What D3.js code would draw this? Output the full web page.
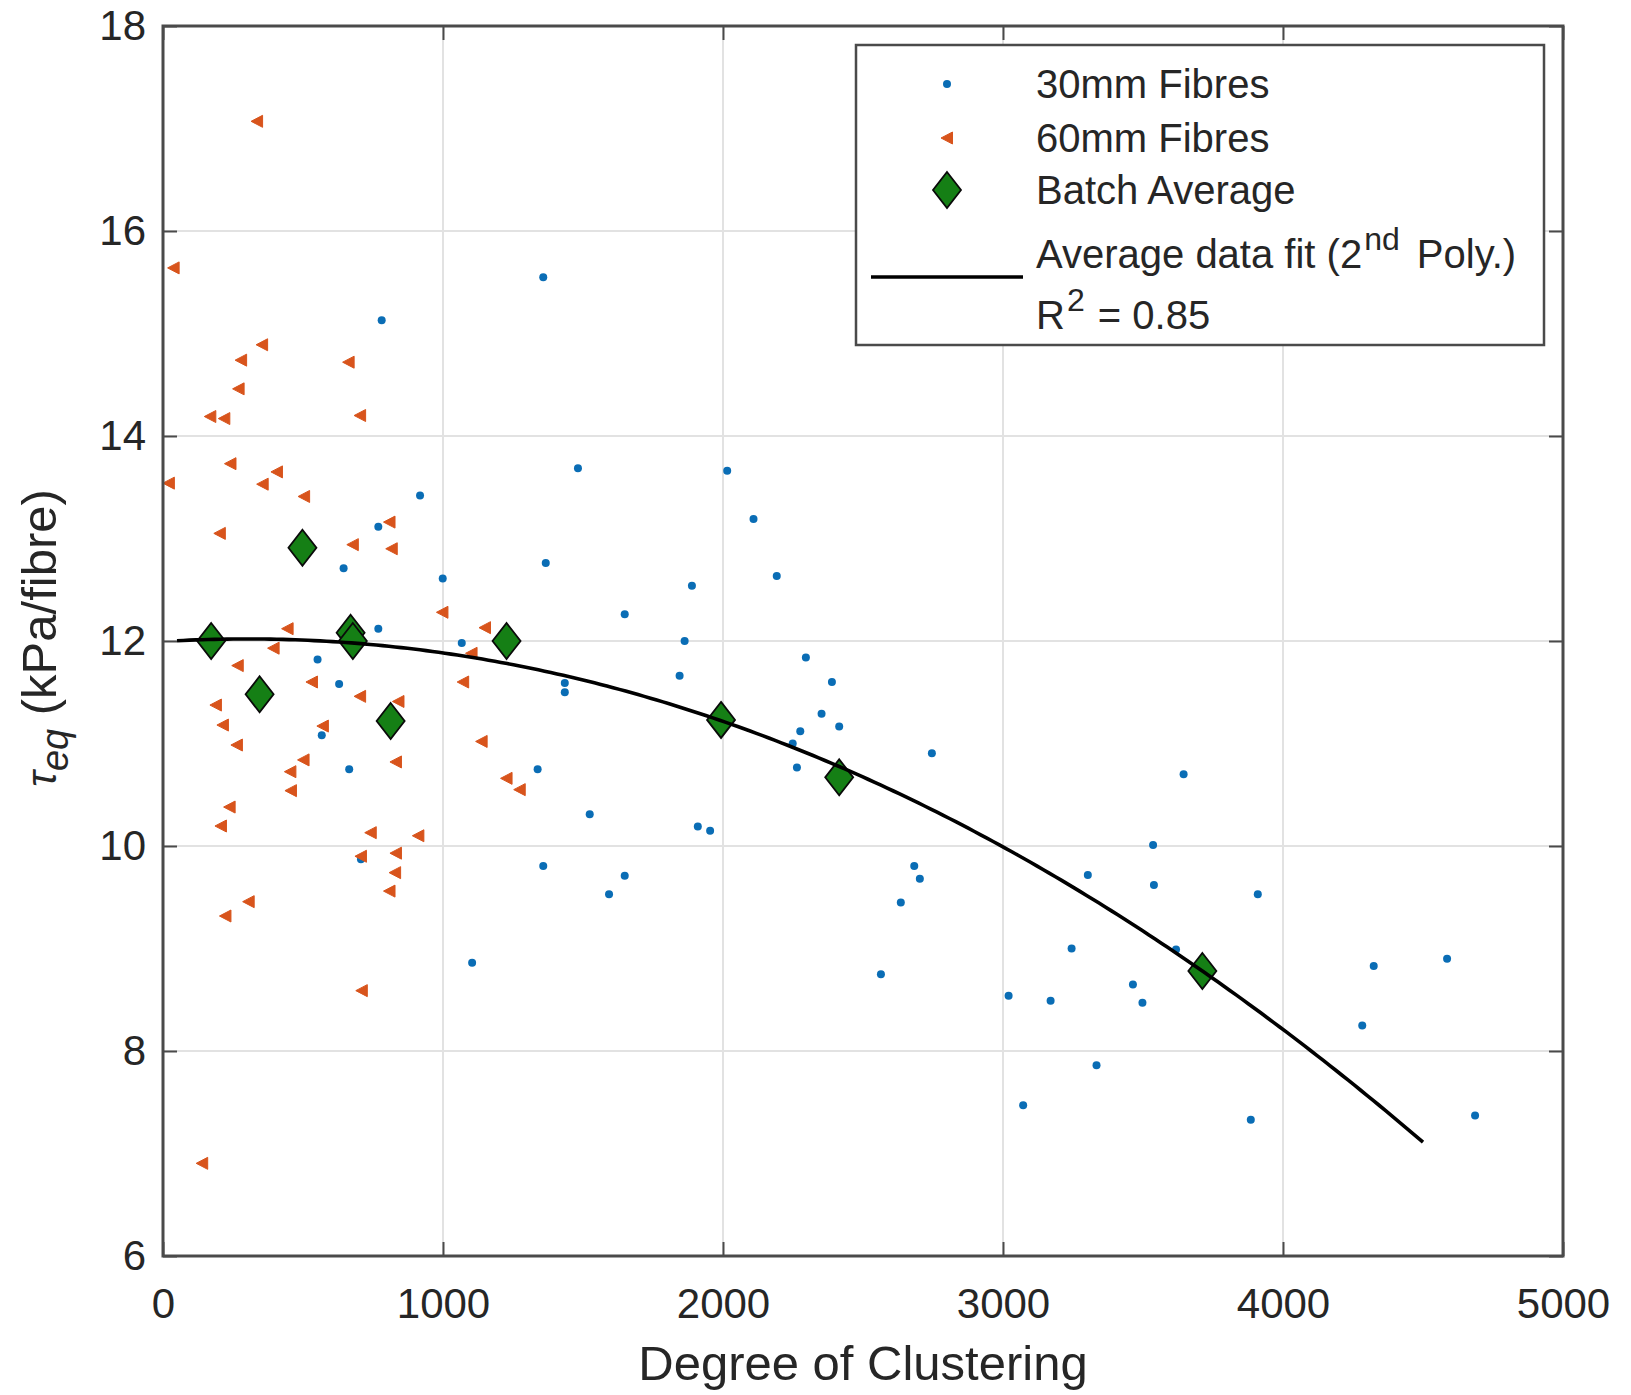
<!DOCTYPE html>
<html>
<head>
<meta charset="utf-8">
<script src="https://cdn.jsdelivr.net/npm/d3@7"></script>
<style>
  body { margin: 0; background: #ffffff; }
  svg { display: block; }
  text { font-family: "Liberation Sans", Arial, Helvetica, sans-serif; fill: #262626; }
</style>
</head>
<body>
<svg id="chart" width="1631" height="1395"></svg>
<script>
// Axis ticks
const xTicks = [0, 1000, 2000, 3000, 4000, 5000];
const yTicks = [6, 8, 10, 12, 14, 16, 18];

// 30mm fibre samples: [degree of clustering, tau_eq]
const fibres30mm = [
  [1358, 15.55], [781, 15.13], [918, 13.42], [769, 13.115], [645, 12.71],
  [999, 12.61], [1367, 12.76], [769, 12.12], [1067, 11.98], [552, 11.82],
  [629, 11.58], [567, 11.08], [665, 10.75], [1338, 10.75], [707, 9.87],
  [1358, 9.805], [1104, 8.86], [1482, 13.685], [2015, 13.66], [2109, 13.19],
  [2192, 12.635], [1889, 12.54], [1649, 12.26], [1863, 12.00], [2296, 11.84],
  [1845, 11.66], [2389, 11.60], [1435, 11.59], [1435, 11.50], [2352, 11.29],
  [2415, 11.165], [2276, 11.12], [2249, 11.0], [2264, 10.765], [2746, 10.905],
  [1524, 10.31], [1910, 10.19], [1954, 10.15], [1649, 9.71], [1593, 9.53],
  [2683, 9.805], [2703, 9.68], [2635, 9.45], [2564, 8.75], [3645, 10.70],
  [3536, 10.01], [3303, 9.716], [3539, 9.62], [3910, 9.53], [3245, 9.0],
  [3618, 8.99], [3020, 8.54], [3170, 8.49], [3464, 8.65], [3498, 8.47],
  [4324, 8.83], [4586, 8.90], [4283, 8.25], [3334, 7.86], [3072, 7.47],
  [3885, 7.33], [4686, 7.37]
];

// 60mm fibre samples: [degree of clustering, tau_eq]
const fibres60mm = [
  [336, 17.07], [38, 15.64], [354, 14.89], [279, 14.74], [663, 14.72],
  [270, 14.46], [169, 14.19], [219, 14.17], [704, 14.20], [241, 13.73],
  [407, 13.65], [21, 13.54], [356, 13.53], [504, 13.41], [203, 13.05],
  [809, 13.16], [678, 12.94], [817, 12.90], [998, 12.28], [445, 12.12],
  [1150, 12.13], [1102, 11.88], [395, 11.93], [267, 11.76], [532, 11.60],
  [1072, 11.60], [704, 11.46], [841, 11.41], [189, 11.375], [214, 11.18],
  [571, 11.17], [264, 10.985], [1138, 11.02], [502, 10.84], [455, 10.725],
  [832, 10.82], [1227, 10.66], [1274, 10.55], [457, 10.54], [238, 10.38],
  [207, 10.195], [742, 10.13], [912, 10.10], [707, 9.90], [832, 9.93],
  [829, 9.74], [809, 9.56], [306, 9.457], [223, 9.317], [710, 8.589],
  [140, 6.904]
];

// Batch averages: [degree of clustering, tau_eq]
const batchAverage = [
  [172, 12.0], [345, 11.48], [498, 12.91], [670, 12.08], [678, 12.0],
  [813, 11.22], [1227, 12.0], [1993, 11.23], [2415, 10.67], [3712, 8.78]
];

// Second-order polynomial fit of the batch averages: c0 + c1*x + c2*x^2
const fitCoeffs = [11.995, 1.6698e-4, -2.783e-7];
const fitRange = [50, 4500];

const legendLabels = ["30mm Fibres", "60mm Fibres", "Batch Average"];

const colors = { f30: "#0a6db5", f60: "#d8541c", avg: "#157f15", fit: "#000000",
                 axis: "#4a4a4a", grid: "#e2e2e2" };

const svg = d3.select("#chart");
const plot = { left: 163, right: 1563, top: 26, bottom: 1256 };

const x = d3.scaleLinear().domain([0, 5000]).range([plot.left, plot.right]);
const y = d3.scaleLinear().domain([6, 18]).range([plot.bottom, plot.top]);

// Grid
const grid = svg.append("g");
grid.selectAll("line.vx").data(xTicks.slice(1, -1)).join("line")
  .attr("x1", d => x(d)).attr("x2", d => x(d))
  .attr("y1", plot.top).attr("y2", plot.bottom)
  .attr("stroke", colors.grid).attr("stroke-width", 2);
grid.selectAll("line.hy").data(yTicks.slice(1, -1)).join("line")
  .attr("x1", plot.left).attr("x2", plot.right)
  .attr("y1", d => y(d)).attr("y2", d => y(d))
  .attr("stroke", colors.grid).attr("stroke-width", 2);

// Axes (ticks point inward on all four sides)
const tickLen = 14;
function styleAxis(g, fontSize) {
  g.select(".domain").remove();
  g.selectAll(".tick line").attr("stroke", colors.axis).attr("stroke-width", 2);
  g.selectAll(".tick text").attr("font-size", fontSize).attr("fill", "#262626");
}
svg.append("g").attr("transform", `translate(0,${plot.bottom})`)
  .call(d3.axisBottom(x).tickValues(xTicks).tickSizeInner(-tickLen).tickSizeOuter(0).tickPadding(32).tickFormat(d3.format("d")))
  .call(g => styleAxis(g, 42));
svg.append("g").attr("transform", `translate(0,${plot.top})`)
  .call(d3.axisTop(x).tickValues(xTicks).tickSizeInner(-tickLen).tickSizeOuter(0).tickFormat(""))
  .call(g => styleAxis(g, 42));
svg.append("g").attr("transform", `translate(${plot.left},0)`)
  .call(d3.axisLeft(y).tickValues(yTicks).tickSizeInner(-tickLen).tickSizeOuter(0).tickPadding(17).tickFormat(d3.format("d")))
  .call(g => styleAxis(g, 42));
svg.append("g").attr("transform", `translate(${plot.right},0)`)
  .call(d3.axisRight(y).tickValues(yTicks).tickSizeInner(-tickLen).tickSizeOuter(0).tickFormat(""))
  .call(g => styleAxis(g, 42));

// Marker shapes
const trianglePath = "M -6,0 L 5.5,-6 L 5.5,6 Z";
const diamondPath = "M 0,-18 L 14,0 L 0,18 L -14,0 Z";

const marks = svg.append("g");

// 30mm fibres
marks.append("g").selectAll("circle").data(fibres30mm).join("circle")
  .attr("cx", d => x(d[0])).attr("cy", d => y(d[1])).attr("r", 4)
  .attr("fill", colors.f30);

// 60mm fibres
marks.append("g").selectAll("path").data(fibres60mm).join("path")
  .attr("d", trianglePath)
  .attr("transform", d => `translate(${x(d[0])},${y(d[1])})`)
  .attr("fill", colors.f60).attr("stroke", colors.f60).attr("stroke-width", 1);

// Batch averages
marks.append("g").selectAll("path").data(batchAverage).join("path")
  .attr("d", diamondPath)
  .attr("transform", d => `translate(${x(d[0])},${y(d[1])})`)
  .attr("fill", colors.avg).attr("stroke", "#0a0a0a").attr("stroke-width", 1.8);

// Polynomial fit
const poly = v => fitCoeffs[0] + fitCoeffs[1] * v + fitCoeffs[2] * v * v;
const fitX = d3.range(0, 201).map(i => fitRange[0] + (fitRange[1] - fitRange[0]) * i / 200);
marks.append("path")
  .datum(fitX)
  .attr("d", d3.line().x(v => x(v)).y(v => y(poly(v))))
  .attr("fill", "none").attr("stroke", colors.fit).attr("stroke-width", 3.6);

// Axes box
svg.append("rect")
  .attr("x", plot.left).attr("y", plot.top)
  .attr("width", plot.right - plot.left).attr("height", plot.bottom - plot.top)
  .attr("fill", "none").attr("stroke", colors.axis).attr("stroke-width", 3);

// Axis labels
svg.append("text")
  .attr("x", (plot.left + plot.right) / 2).attr("y", 1380)
  .attr("text-anchor", "middle").attr("font-size", 49)
  .text("Degree of Clustering");

const yLabel = svg.append("text")
  .attr("transform", `translate(56,638) rotate(-90)`)
  .attr("text-anchor", "middle").attr("font-size", 49);
yLabel.append("tspan").attr("font-style", "italic").attr("font-size", 42).text("τ");
yLabel.append("tspan").attr("font-style", "italic").attr("font-size", 38).attr("dy", 12).text("eq");
yLabel.append("tspan").attr("dy", -12).text(" (kPa/fibre)");

// Legend
const legend = svg.append("g");
legend.append("rect")
  .attr("x", 856).attr("y", 45).attr("width", 688).attr("height", 300)
  .attr("fill", "#ffffff").attr("stroke", colors.axis).attr("stroke-width", 2.5);

const legendFont = 40;
const textX = 1036;
const symX = 947;
const rowY = [84, 138, 190];

legend.append("circle").attr("cx", symX).attr("cy", rowY[0]).attr("r", 4).attr("fill", colors.f30);
legend.append("path").attr("d", trianglePath).attr("transform", `translate(${symX},${rowY[1]})`)
  .attr("fill", colors.f60).attr("stroke", colors.f60).attr("stroke-width", 1);
legend.append("path").attr("d", diamondPath).attr("transform", `translate(${symX},${rowY[2]})`)
  .attr("fill", colors.avg).attr("stroke", "#0a0a0a").attr("stroke-width", 1.8);
legend.append("line").attr("x1", 871).attr("x2", 1023).attr("y1", 277).attr("y2", 277)
  .attr("stroke", colors.fit).attr("stroke-width", 3.6);

legend.selectAll("text.row").data(legendLabels).join("text")
  .attr("x", textX).attr("y", (d, i) => rowY[i] + 14)
  .attr("font-size", legendFont).text(d => d);

const fitLabel = legend.append("text").attr("x", textX).attr("y", 268).attr("font-size", legendFont);
fitLabel.append("tspan").text("Average data fit (2");
fitLabel.append("tspan").attr("font-size", 32).attr("dy", -18).attr("dx", 2).text("nd");
fitLabel.append("tspan").attr("dy", 18).attr("dx", 6).text(" Poly.)");

const r2Label = legend.append("text").attr("x", textX).attr("y", 329).attr("font-size", legendFont);
r2Label.append("tspan").text("R");
r2Label.append("tspan").attr("font-size", 32).attr("dy", -18).attr("dx", 2).text("2");
r2Label.append("tspan").attr("dy", 18).attr("dx", 2).text(" = 0.85");
</script>
</body>
</html>
